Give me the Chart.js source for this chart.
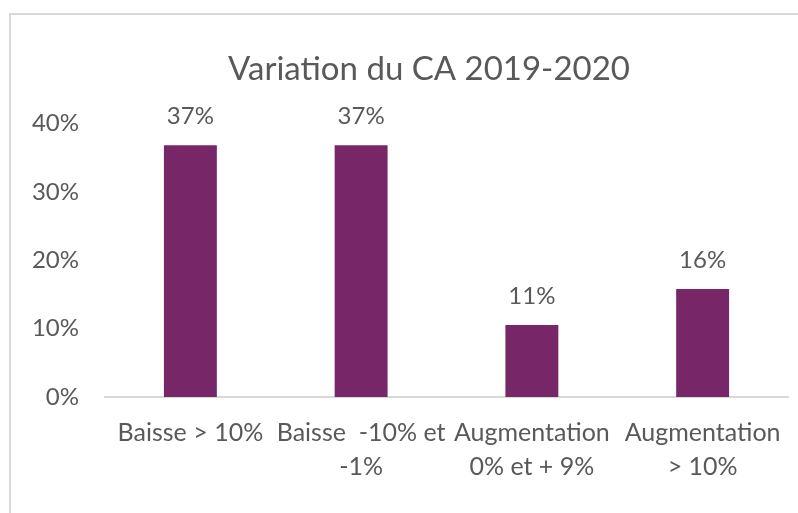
<!DOCTYPE html>
<html>
<head>
<meta charset="utf-8">
<script src="https://cdn.jsdelivr.net/npm/chart.js@4"></script>
<style>
  html, body { margin: 0; padding: 0; background: #ffffff; overflow: hidden; }
  #wrap { position: relative; width: 798px; height: 513px; }
  #frame { position: absolute; left: 9px; top: 13px; width: 900px; height: 600px; border: 2px solid #d9d9d9; box-sizing: border-box; }
  #c { position: absolute; left: 0; top: 0; }
</style>
</head>
<body>
<div id="wrap">
  <div id="frame"></div>
  <canvas id="c" width="798" height="513"></canvas>
</div>
<script>
const titleText = "Variation du CA 2019-2020";
const categories = [
  ["Baisse > 10%"],
  ["Baisse  -10% et", "-1%"],
  ["Augmentation", "0% et + 9%"],
  ["Augmentation", "> 10%"]
];
const shares = [36.84, 36.84, 10.53, 15.79];
const yTickStep = 10;
const yMax = 40;

const textColor = "#595959";
const barColor = "#772668";
const fontFamily = "Lato, 'Open Sans', sans-serif";

const valueLabels = {
  id: "valueLabels",
  afterDatasetsDraw(chart) {
    const ctx = chart.ctx;
    const meta = chart.getDatasetMeta(0);
    ctx.save();
    ctx.font = "24px " + fontFamily;
    ctx.fillStyle = textColor;
    ctx.textAlign = "center";
    ctx.textBaseline = "middle";
    meta.data.forEach((bar, i) => {
      ctx.fillText(Math.round(shares[i]) + "%", bar.x, bar.y - 29);
    });
    ctx.restore();
  }
};

// widen the y-axis label clip region so its labels can sit left of the axis box
const widenYLabelArea = {
  id: "widenYLabelArea",
  afterLayout(chart) {
    const y = chart.scales.y;
    y.left = 0;
    y.width = y.right;
  }
};

new Chart(document.getElementById("c"), {
  type: "bar",
  data: {
    labels: categories,
    datasets: [{
      data: shares,
      backgroundColor: barColor,
      borderWidth: 0,
      barPercentage: 0.31,
      categoryPercentage: 1
    }]
  },
  options: {
    responsive: false,
    animation: false,
    layout: { padding: { left: 70, right: 10, top: 13, bottom: 0 } },
    plugins: {
      legend: { display: false },
      tooltip: { enabled: false },
      title: {
        display: true,
        text: titleText,
        color: textColor,
        font: { family: fontFamily, size: 33, weight: "normal", lineHeight: 1.2 },
        padding: { top: 37, bottom: 34 }
      }
    },
    scales: {
      x: {
        grid: { display: false, drawTicks: false },
        border: { display: true, color: "#d9d9d9", width: 2 },
        ticks: {
          color: textColor,
          font: { family: fontFamily, size: 25, lineHeight: 1.35 },
          padding: 19,
          maxRotation: 0,
          autoSkip: false
        },
        afterFit(scale) {
          scale.height = 116;
          scale.paddingLeft = 0;
          scale.paddingRight = 0;
        }
      },
      y: {
        min: 0,
        max: yMax,
        grid: { display: false, drawTicks: false },
        border: { display: false },
        ticks: {
          stepSize: yTickStep,
          color: textColor,
          font: { family: fontFamily, size: 24 },
          padding: 26,
          callback: (v) => v + "%"
        },
        afterFit(scale) { scale.width = 35; }
      }
    }
  },
  plugins: [valueLabels, widenYLabelArea]
});
</script>
</body>
</html>
